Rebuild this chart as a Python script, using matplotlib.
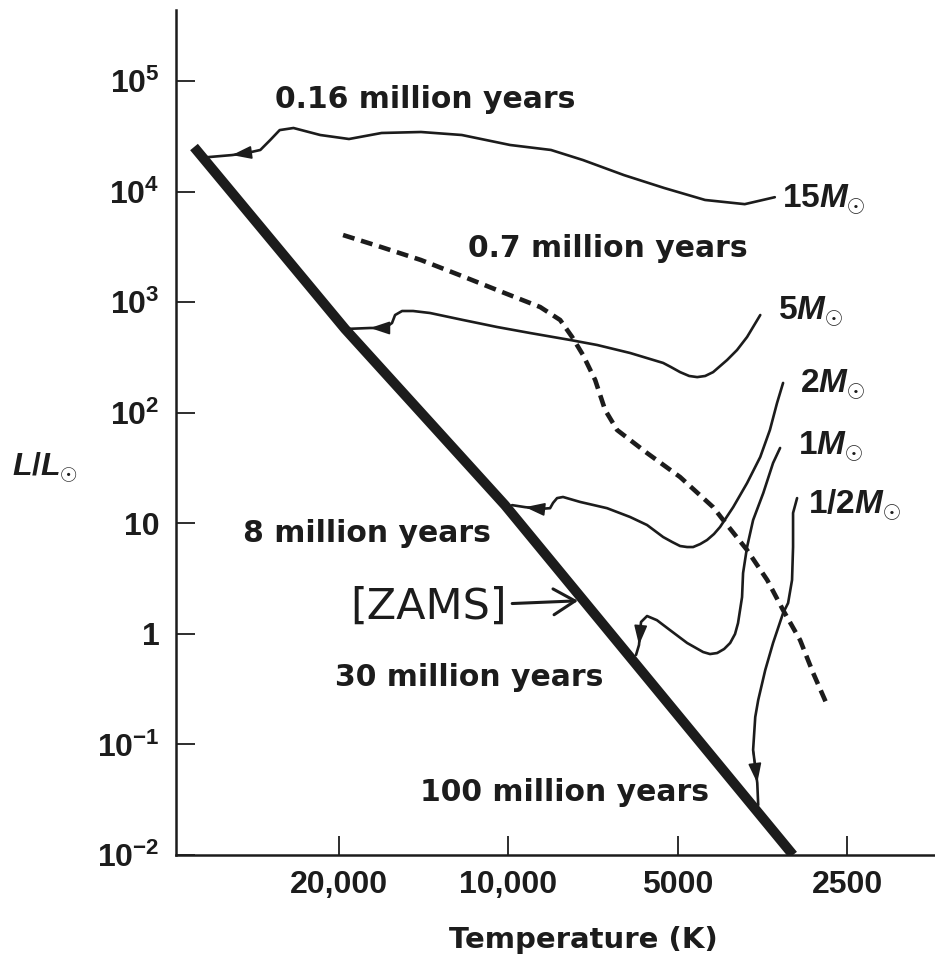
import numpy as np
import matplotlib
matplotlib.use("Agg")
import matplotlib.pyplot as plt
from matplotlib.ticker import NullLocator

plt.rcParams["font.family"] = "Liberation Sans"
plt.rcParams["font.weight"] = "bold"
plt.rcParams["mathtext.fontset"] = "custom"
plt.rcParams["mathtext.rm"] = "Liberation Sans:bold"
plt.rcParams["mathtext.it"] = "Liberation Sans:italic:bold"
plt.rcParams["mathtext.bf"] = "Liberation Sans:bold"

INK = "#1c1c1c"

# --- data (T in K, L in solar units) ---
zams_T = [36210, 19510, 10140, 3118]
zams_L = [25300, 572, 14.6, 0.01]

# pre-main-sequence tracks, from first point (right) towards the ZAMS
m15_T = [3360, 3800, 4470, 5290, 6230, 7370, 8400, 9930, 12100, 14300, 16800,
         19200, 21600, 24100, 25500, 26500, 27600, 29200, 31000, 34200, 34900]
m15_L = [8900, 7700, 8400, 10800, 14100, 19300, 23800, 26400, 32500, 34600, 33900,
         29900, 32500, 37600, 36000, 29300, 23800, 22300, 21400, 20500, 20500]

m5_T = [3566, 3764, 3922, 4084, 4204, 4325, 4468, 4616, 4770, 4951, 5140, 5306,
        6075, 6954, 7764, 9148, 10470, 12040, 13780, 14770, 15450, 15900, 16100,
        16570, 17610, 19510]
m5_L = [765, 484, 369, 300, 264, 233, 215, 210, 215, 233, 259, 282,
        347, 410, 455, 526, 596, 690, 798, 832, 832, 765, 648,
        584, 584, 572]

m2_T = [3248, 3330, 3428, 3566, 3764, 3984, 4204, 4310, 4434, 4560, 4694, 4810,
        4951, 5113, 5306, 5668, 6075, 6676, 7454, 7996, 8192, 8328, 8430, 8780,
        9336, 9850]
m2_L = [186, 122, 69.8, 39.8, 23.1, 14.0, 9.26, 8.0, 7.06, 6.49, 6.10, 6.10,
        6.23, 6.77, 7.51, 9.65, 11.4, 13.7, 15.6, 17.3, 16.9, 15.3, 13.7, 13.5,
        14.0, 14.6]

m1_T = [3288, 3384, 3522, 3672, 3764, 3826, 3842, 3906, 3954, 4034, 4134, 4254,
        4380, 4506, 4810, 5158, 5444, 5668, 5810, 5858, 5930]
m1_L = [48.0, 35.1, 18.8, 10.7, 6.10, 3.55, 2.15, 1.25, 0.997, 0.827, 0.730, 0.671,
        0.657, 0.685, 0.827, 1.08, 1.33, 1.45, 1.28, 0.793, 0.644]

mhalf_T = [3067, 3118, 3118, 3131, 3182, 3248, 3384, 3494, 3596, 3640, 3672, 3610, 3596]
mhalf_L = [16.9, 12.4, 6.10, 3.07, 1.90, 1.54, 0.827, 0.471, 0.252, 0.177, 0.0891, 0.0448, 0.0283]

# index of the point where each track carries its arrowhead
tracks = [(m15_T, m15_L, 18), (m5_T, m5_L, 24), (m2_T, m2_L, 24),
          (m1_T, m1_L, 19), (mhalf_T, mhalf_L, 11)]

# dashed isochrone
iso_T = [19670, 16840, 14300, 12090, 10260, 8780, 8090, 7702, 7368, 7010, 6730,
         6408, 5668, 4951, 4325, 4150, 3764, 3466, 3248, 3030, 2872, 2722]
iso_L = [4047, 3154, 2405, 1723, 1235, 904, 690, 484, 333, 198, 106,
         69.8, 43.2, 26.2, 14.0, 10.7, 5.73, 3.07, 1.64, 0.880, 0.443, 0.237]

t_ticks = [20000, 10000, 5000, 2500]
t_labels = ["20,000", "10,000", "5000", "2500"]
l_ticks = [1e-2, 1e-1, 1, 10, 1e2, 1e3, 1e4, 1e5]
l_labels = [r"$10^{-2}$", r"$10^{-1}$", "1", "10", r"$10^{2}$", r"$10^{3}$", r"$10^{4}$", r"$10^{5}$"]

# (text, T, L) for the age labels, left edge / vertical centre
age_labels = [("0.16 million years", 25990, 68700),
              ("0.7 million years", 11800, 3088),
              ("8 million years", 29630, 8.17),
              ("30 million years", 20330, 0.407),
              ("100 million years", 14350, 0.0364)]
mass_labels = [(r"15$M_{\odot}$", 3262, 8390),
               (r"5$M_{\odot}$", 3316, 815),
               (r"2$M_{\odot}$", 3030, 178),
               (r"1$M_{\odot}$", 3054, 49.0),
               (r"1/2$M_{\odot}$", 2932, 14.6)]
zams_note_L = 2.0

fig = plt.figure(figsize=(9.35, 9.66), dpi=100)
ax = fig.add_axes([176 / 935, 111 / 966, 759 / 935, 845 / 966])
ax.set_xscale("log")
ax.set_yscale("log")
ax.set_xlim(38980, 1744)
ax.set_ylim(0.01, 4.39e5)

for side in ["top", "right"]:
    ax.spines[side].set_visible(False)
for side in ["left", "bottom"]:
    ax.spines[side].set_linewidth(1.8)
    ax.spines[side].set_color(INK)

ax.set_xticks(t_ticks, t_labels)
ax.set_yticks(l_ticks, l_labels)
ax.xaxis.set_minor_locator(NullLocator())
ax.yaxis.set_minor_locator(NullLocator())
ax.tick_params(axis="both", direction="in", length=14, width=1.3, color=INK,
               labelcolor=INK, labelsize=23)
ax.tick_params(axis="y", pad=12)
ax.tick_params(axis="x", pad=11)

# ZAMS
ax.plot(zams_T, zams_L, color=INK, lw=7.2, solid_capstyle="butt", solid_joinstyle="round")

# tracks
for T, L, i in tracks:
    ax.plot(T, L, color=INK, lw=1.9, solid_joinstyle="round", solid_capstyle="round")
    ax.annotate("", xy=(T[i], L[i]), xytext=(T[i - 1], L[i - 1]),
                arrowprops=dict(arrowstyle="-|>,head_length=0.75,head_width=0.25",
                                color=INK, lw=1.2, mutation_scale=16,
                                shrinkA=0, shrinkB=0))

# isochrone
ax.plot(iso_T, iso_L, color=INK, lw=3.3, dashes=(2.6, 1.5))

for txt, T, L in age_labels:
    ax.text(T, L, txt, ha="left", va="center", family="DejaVu Sans",
            weight="bold", size=21.5, color=INK)
for txt, T, L in mass_labels:
    ax.text(T, L, txt, ha="left", va="center", size=24, color=INK)

# hand-written ZAMS marker pointing at the ZAMS
logL = np.log10(zams_L)[::-1]
logT = np.log10(zams_T)[::-1]
zams_note_T = 10 ** np.interp(np.log10(zams_note_L), logL, logT)
ax.annotate("[ZAMS]", xy=(zams_note_T, zams_note_L), xytext=(19120, 1.75),
            ha="left", va="center", family="DejaVu Sans", weight="normal",
            size=31, color=INK,
            arrowprops=dict(arrowstyle="->,head_length=0.5,head_width=0.3",
                            color=INK, lw=2.2, shrinkA=2, shrinkB=4))

fig.text(45 / 935, 1 - 467 / 966, r"$L/L_{\odot}$", ha="center", va="center",
         size=23, color=INK)
fig.text(583 / 935, 1 - 940 / 966, "Temperature (K)", ha="center", va="center",
         family="DejaVu Sans", weight="bold", size=21, color=INK)

fig.savefig("out.png", dpi=100)
